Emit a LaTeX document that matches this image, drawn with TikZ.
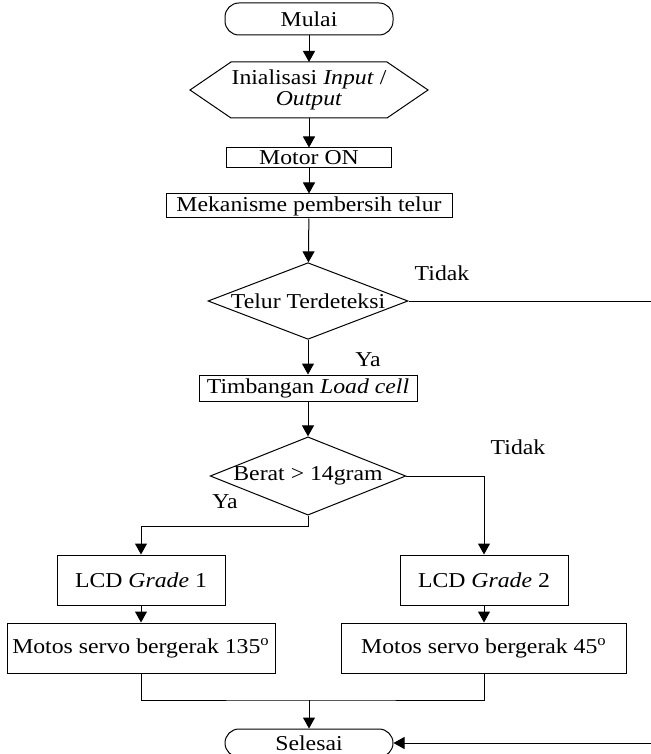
\documentclass[tikz,border=0pt]{standalone}
\usepackage{fontspec}
\setmainfont{Liberation Serif}[FakeStretch=1.12]
\usetikzlibrary{arrows.meta,shapes.geometric}
\tikzset{
  proses/.style={draw, inner sep=0pt, minimum height=25pt},
  terminal/.style={draw, rounded corners=7pt, minimum width=84pt, minimum height=16pt, inner sep=0pt},
  keputusan/.style={draw, diamond, aspect=2.5, inner sep=0pt},
  alur/.style={-{Triangle[width=6pt,length=5.5pt]}},
}
\begin{document}
\begin{tikzpicture}[x=0.5pt, y=-0.5pt, line width=0.5pt, font=\fontsize{10.6}{12.5}\selectfont]
  \clip (0,0) rectangle (651,754);
  % mulai dan inisialisasi
  \node[terminal] (mulai) at (309,19) {Mulai};
  \node[minimum width=77.5pt, minimum height=27.5pt, inner sep=0pt, align=center] (init) at (309,90)
    {Inialisasi \textit{Input} /\\[-2pt] \textit{Output}};
  \draw ([xshift=-20.5pt]init.west) -- (init.north west) -- (init.north east)
    -- ([xshift=20.5pt]init.east) -- (init.south east) -- (init.south west) -- cycle;
  \node[proses, minimum width=82.5pt, minimum height=10pt] (motor) at (309,158) {Motor ON};
  \node[proses, minimum width=143pt, minimum height=12pt] (bersih) at (309,206) {Mekanisme pembersih telur};
  % deteksi telur
  \node[keputusan, minimum width=100pt] (telur) at (308,301) {Telur Terdeteksi};
  \node (tidaka) at (442,273) {Tidak};
  \node (yaa) at (368,360) {Ya};
  \node[proses, minimum width=109pt, minimum height=13pt] (timbang) at (308,388) {Timbangan \textit{Load cell}};
  % berat
  \node[keputusan] (berat) at (308,476) {Berat > 14gram};
  \node (tidakb) at (518,447) {Tidak};
  \node (yab) at (225,502) {Ya};
  \node[proses, minimum width=84pt] (lcda) at (141,580) {LCD \textit{Grade} 1};
  \node[proses, minimum width=84pt] (lcdb) at (484,580) {LCD \textit{Grade} 2};
  \node[proses, minimum width=134pt] (servoa) at (141,648) {Motos servo bergerak 135\textsuperscript{o}};
  \node[proses, minimum width=142.5pt] (servob) at (484,648) {Motos servo bergerak 45\textsuperscript{o}};
  \node[terminal, minimum height=14pt] (selesai) at (309,743) {Selesai};
  \coordinate (gabung) at (309,700);
  \coordinate (sudut) at (662,301);
  % alur
  \draw[alur] (mulai) -- (init.north);
  \draw[alur] (init.south) -- (motor);
  \draw[alur] (motor) -- (bersih);
  \draw[alur] (bersih) -- (telur);
  \draw[alur] (telur) -- (timbang);
  \draw[alur] (timbang) -- (berat);
  \draw[alur] (berat.south) -- ++(0,11) -| (lcda.north);
  \draw[alur] (berat.east) -| (lcdb.north);
  \draw[alur] (lcda) -- (servoa);
  \draw[alur] (lcdb) -- (servob);
  \draw (servoa.south) |- (gabung) -| (servob.south);
  \draw[alur] (gabung) -- (selesai);
  \draw[alur] (telur.east) -- (sudut) |- (selesai.east);
\end{tikzpicture}
\end{document}
